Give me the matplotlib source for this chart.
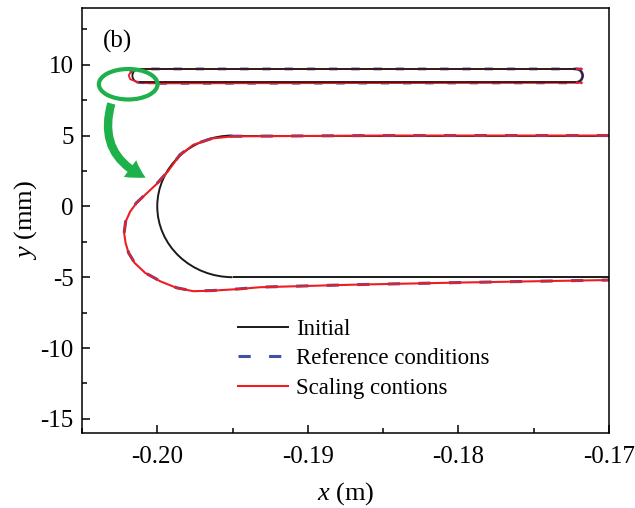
"""
Nose-region outline of the strip: initial shape vs. deformed shapes
"""

import matplotlib
matplotlib.use("Agg")
import matplotlib.pyplot as plt
from matplotlib.patches import Arc, Ellipse, FancyArrowPatch
from matplotlib.ticker import MultipleLocator

plt.rcParams['font.family'] = ['Liberation Serif', 'DejaVu Serif']
plt.rcParams['mathtext.fontset'] = 'custom'
plt.rcParams['mathtext.rm'] = 'Liberation Serif'
plt.rcParams['mathtext.it'] = 'Liberation Serif:italic'
plt.rcParams['axes.unicode_minus'] = False

# initial geometry: straight edges at +/- half thickness, round nose
x_end = -0.17          # m
nose_center = -0.195   # m
nose_radius_x = 0.005  # m
half_thick = 5.0       # mm

# deformed outline (x in m, y in mm), from the top edge around the nose to the bottom edge
ref_x = [-0.1700, -0.1850, -0.1950, -0.1963, -0.1976, -0.1985, -0.1993, -0.2000,
         -0.2007, -0.2014, -0.2018, -0.2021, -0.2022, -0.2021, -0.2019, -0.2015,
         -0.2008, -0.1998, -0.1987, -0.1976, -0.1963, -0.1945, -0.1932, -0.1870,
         -0.1800, -0.1750, -0.1700]
ref_y = [5.00, 5.00, 4.95, 4.82, 4.36, 3.64, 2.46, 1.64,
         0.94, 0.23, -0.35, -1.06, -1.88, -2.58, -3.29, -3.99,
         -4.69, -5.28, -5.75, -5.98, -5.94, -5.82, -5.70, -5.53,
         -5.38, -5.29, -5.20]
scl_x = [-0.1700, -0.1850, -0.1950, -0.1963, -0.1976, -0.1985, -0.1993, -0.2000,
         -0.2007, -0.2014, -0.2018, -0.2021, -0.2022, -0.2021, -0.2019, -0.2015,
         -0.2008, -0.1998, -0.1987, -0.1976, -0.1963, -0.1945, -0.1932, -0.1870,
         -0.1800, -0.1750, -0.1700]
scl_y = [5.00, 5.00, 4.94, 4.80, 4.35, 3.62, 2.46, 1.62,
         0.92, 0.21, -0.37, -1.08, -1.90, -2.60, -3.30, -4.00,
         -4.70, -5.29, -5.76, -5.99, -5.95, -5.83, -5.71, -5.53,
         -5.38, -5.29, -5.20]

# overview of the whole strip, drawn small above the main outline
mini_left = -0.2012
mini_right = -0.1722
mini_top = 9.70
mini_bottom = 8.75
mini_rx = 0.00045
mini_def_x = [-0.1718, -0.2012, -0.2017, -0.2019, -0.2018, -0.2013, -0.2005, -0.1718]
mini_def_y = [9.70, 9.70, 9.55, 9.25, 8.98, 8.76, 8.68, 8.72]

BLACK = '#1a1a1a'
BLUE = '#4152a6'
RED = '#ee1d24'
GREEN = '#1eb04b'

fig = plt.figure(figsize=(6.35, 5.08), dpi=100)
ax = fig.add_axes([0.1291, 0.1476, 0.8299, 0.8366])

# initial outline
ax.hlines([half_thick, -half_thick], nose_center, x_end, color=BLACK, lw=1.4)
ax.add_patch(Arc((nose_center, 0), 2 * nose_radius_x, 2 * half_thick,
                 theta1=90, theta2=270, color=BLACK, lw=1.4))
ax.plot([], [], color=BLACK, lw=1.4, label='Initial')

# deformed outlines
ax.plot(ref_x, ref_y, color=BLUE, lw=2.2, ls=(0, (4.0, 6.0)),
        label='Reference conditions')
ax.plot(scl_x, scl_y, color=RED, lw=1.5, label='Scaling contions')

# small overview
mini_mid = (mini_top + mini_bottom) / 2
mini_h = mini_top - mini_bottom
ax.plot(mini_def_x, mini_def_y, color=BLUE, lw=2.0, ls=(0, (3, 5)))
ax.plot(mini_def_x, mini_def_y, color=RED, lw=1.3)
ax.hlines([mini_top, mini_bottom], mini_left, mini_right, color='#3a1a1a', lw=1.4)
ax.add_patch(Arc((mini_left, mini_mid), 2 * mini_rx, mini_h,
                 theta1=90, theta2=270, color=BLACK, lw=1.3))
ax.add_patch(Arc((mini_right, mini_mid), 2 * mini_rx, mini_h,
                 theta1=-90, theta2=90, color=BLUE, lw=2.0))
ax.add_patch(Arc((mini_right, mini_mid), 2 * mini_rx, mini_h,
                 theta1=-90, theta2=90, color='#3a1a1a', lw=1.2))

# highlight of the nose on the overview and pointer to the enlarged outline
ax.add_patch(Ellipse((-0.20193, 8.62), 0.0039, 2.15, fill=False,
                     ec=GREEN, lw=3.0, zorder=5))
ax.add_patch(FancyArrowPatch((-0.20300, 7.45), (-0.20060, 1.95),
                             connectionstyle='arc3,rad=0.45',
                             arrowstyle='simple,head_length=13,head_width=15,tail_width=6',
                             color=GREEN, lw=0, zorder=5))

ax.text(-0.20261, 11.62, '(b)', fontsize=18, ha='center', va='center')

ax.set_xlim(-0.205, -0.17)
ax.set_ylim(-16, 14)
ax.xaxis.set_major_locator(MultipleLocator(0.01))
ax.xaxis.set_minor_locator(MultipleLocator(0.005))
ax.yaxis.set_major_locator(MultipleLocator(5))
ax.yaxis.set_minor_locator(MultipleLocator(2.5))
ax.xaxis.set_major_formatter(plt.FuncFormatter(lambda v, p: f'{v:.2f}'))
ax.tick_params(which='both', direction='in', labelsize=18, width=1.1)
ax.tick_params(which='major', length=6)
ax.tick_params(which='minor', length=3.5)
ax.tick_params(axis='x', pad=9)
ax.tick_params(axis='y', pad=6)
for s in ax.spines.values():
    s.set_linewidth(1.1)

ax.set_xlabel('$x$ (m)', fontsize=19, labelpad=9)
ax.set_ylabel('$y$ (mm)', fontsize=19, labelpad=1)

ax.legend(loc='upper left', bbox_to_anchor=(0.296, 0.268), frameon=False,
          fontsize=16.5, handlelength=2.2, handletextpad=0.35, labelspacing=0.36,
          borderpad=0, borderaxespad=0)

plt.savefig('out.png', dpi=100)
plt.close()
